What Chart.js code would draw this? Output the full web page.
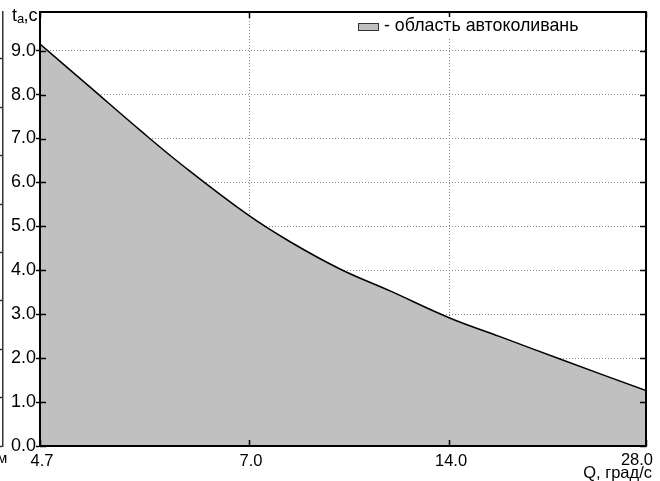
<!DOCTYPE html>
<html>
<head>
<meta charset="utf-8">
<script src="https://cdn.jsdelivr.net/npm/chart.js@4/dist/chart.umd.min.js"></script>
<style>
  html, body { margin: 0; padding: 0; background: #fff; }
  #c { display: block; }
</style>
</head>
<body>
<canvas id="c" width="660" height="481"></canvas>
<script>
// ---- data ----
const xCategories = ['4.7', '7.0', '14.0', '28.0'];
const xCategoryPos = [0, 1.035, 2.025, 3];
const curveX = [0, 0.248, 0.495, 0.708, 1.03, 1.238, 1.485, 1.733, 2.025, 2.277, 2.574, 3];
const curveY = [9.15, 8.17, 7.19, 6.38, 5.26, 4.65, 4.03, 3.53, 2.92, 2.49, 1.98, 1.26];
const seriesLabel = 'область автоколивань';
const yTitle = ['t', 'a', ',c'];
const xTitle = 'Q, град/с';
const yMin = 0, yMax = 9.88, yStep = 1;
const leftFragmentMax = 8.97;
const leftFragmentText = 'м';

const FONT = '"Liberation Sans", Arial, sans-serif';

const decorPlugin = {
  id: 'decor',
  afterDraw(chart) {
    const ctx = chart.ctx;
    const a = chart.chartArea;
    const xs = chart.scales.x, ys = chart.scales.y;
    ctx.save();
    // inward ticks
    ctx.strokeStyle = '#000';
    ctx.lineWidth = 1.5;
    ctx.beginPath();
    ys.ticks.forEach(t => {
      const py = Math.round(ys.getPixelForValue(t.value)) + 0.5;
      ctx.moveTo(a.left, py); ctx.lineTo(a.left + 6, py);
      ctx.moveTo(a.right, py); ctx.lineTo(a.right - 6, py);
    });
    xs.ticks.forEach(t => {
      const px = Math.round(xs.getPixelForValue(t.value)) + 0.5;
      ctx.moveTo(px, a.top); ctx.lineTo(px, a.top + 6);
      ctx.moveTo(px, a.bottom); ctx.lineTo(px, a.bottom - 6);
    });
    ctx.stroke();
    // frame
    ctx.lineWidth = 2;
    ctx.strokeRect(a.left, a.top, a.right - a.left, a.bottom - a.top);

    // x tick labels
    ctx.fillStyle = '#000';
    ctx.font = '16.5px ' + FONT;
    ctx.textBaseline = 'alphabetic';
    xCategories.forEach((lab, i) => {
      const px = xs.getPixelForValue(xCategoryPos[i]);
      if (i === xCategories.length - 1) {
        ctx.textAlign = 'right';
        ctx.fillText(lab, a.right + 7, a.bottom + 19);
      } else {
        ctx.textAlign = 'center';
        ctx.fillText(lab, px + 2, a.bottom + 20);
      }
    });
    // x title
    ctx.textAlign = 'right';
    ctx.font = '16.5px ' + FONT;
    ctx.fillText(xTitle, a.right + 6, a.bottom + 32);

    // y title t_a,c
    ctx.textAlign = 'left';
    ctx.font = '18px ' + FONT;
    ctx.fillText(yTitle[0], 12, 21);
    ctx.font = '13px ' + FONT;
    ctx.fillText(yTitle[1], 17, 23);
    ctx.font = '18px ' + FONT;
    ctx.fillText(yTitle[2], 23.5, 21);

    // left fragment text
    ctx.font = '15px ' + FONT;
    ctx.fillText(leftFragmentText, -3, 463);

    // legend
    ctx.fillStyle = '#fff';
    ctx.fillRect(352, 17, 240, 21);
    ctx.fillStyle = '#c0c0c0';
    ctx.fillRect(358, 23, 21, 7);
    ctx.strokeStyle = '#333';
    ctx.lineWidth = 1;
    ctx.strokeRect(358.5, 23.5, 20, 7);
    ctx.fillStyle = '#000';
    ctx.font = '17.8px ' + FONT;
    ctx.fillText('- ' + chart.data.datasets[0].label, 384, 31);
    ctx.restore();
  }
};

new Chart(document.getElementById('c'), {
  type: 'line',
  data: {
    datasets: [{
      label: seriesLabel,
      data: curveX.map((x, i) => ({ x: x, y: curveY[i] })),
      borderColor: '#000',
      borderWidth: 1.5,
      backgroundColor: '#c0c0c0',
      fill: 'origin',
      pointRadius: 0,
      tension: 0.4
    }]
  },
  options: {
    responsive: false,
    devicePixelRatio: 1,
    animation: false,
    events: [],
    layout: { padding: { top: 12, right: 14, left: 0, bottom: 0 } },
    plugins: { legend: { display: false }, tooltip: { enabled: false } },
    scales: {
      x: {
        type: 'linear',
        position: 'bottom',
        min: 0, max: 3,
        z: 1,
        afterBuildTicks: s => { s.ticks = xCategoryPos.map(v => ({ value: v })); },
        afterFit: s => { s.height = 35; },
        ticks: { display: false },
        grid: { color: '#8a8a8a', lineWidth: 1, drawTicks: false },
        border: { color: '#000', width: 2, dash: [1, 2] }
      },
      y: {
        type: 'linear',
        position: 'left',
        weight: 0,
        min: yMin, max: yMax,
        z: 1,
        afterFit: s => { s.width = 37; },
        ticks: {
          stepSize: yStep,
          includeBounds: false,
          padding: 0,
          color: '#000',
          font: { family: FONT, size: 18 },
          callback: v => Number(v).toFixed(1)
        },
        grid: { color: '#8a8a8a', lineWidth: 1, tickLength: 4, tickColor: '#000', tickWidth: 1.5 },
        border: { color: '#000', width: 2, dash: [1, 2] }
      },
      yFrag: {
        type: 'linear',
        position: 'left',
        weight: 1,
        min: 0, max: leftFragmentMax,
        afterFit: s => { s.width = 3; },
        ticks: { display: false, stepSize: 1, includeBounds: false },
        grid: { drawOnChartArea: false, tickLength: 3, tickColor: '#333', tickWidth: 1.5 },
        border: { color: '#333', width: 1.5 }
      }
    }
  },
  plugins: [decorPlugin]
});
</script>
</body>
</html>
